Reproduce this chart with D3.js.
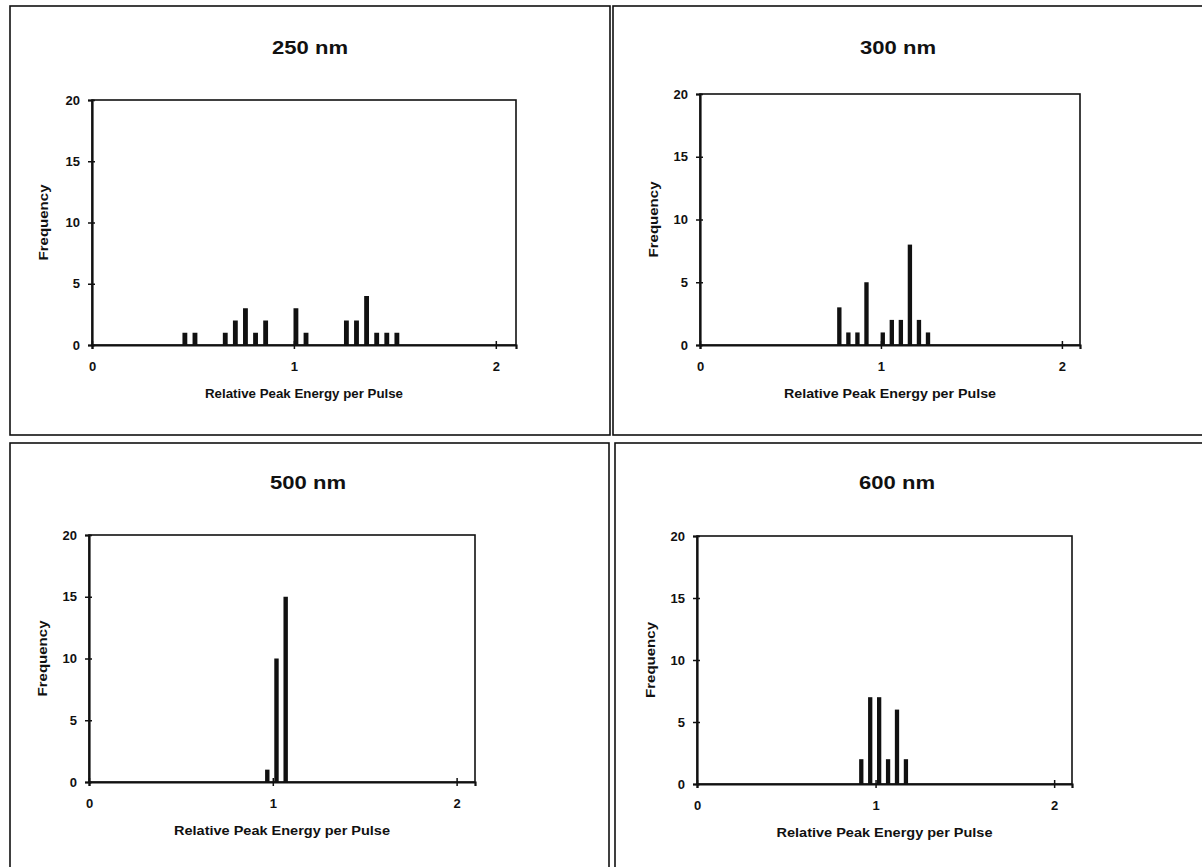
<!DOCTYPE html>
<html>
<head>
<meta charset="utf-8">
<script src="https://cdn.jsdelivr.net/npm/d3@7/dist/d3.min.js"></script>
<style>
  html, body { margin: 0; padding: 0; background: #fff; }
  svg { display: block; }
</style>
</head>
<body>
<svg id="chart" width="1202" height="867"></svg>
<script>
// ---- data ----
const panelTitles = ["250 nm", "300 nm", "500 nm", "600 nm"];
const xTicks = [0, 1, 2];
const yTicks = [0, 5, 10, 15, 20];
const xLabel = "Relative Peak Energy per Pulse";
const yLabel = "Frequency";

const bins250 = [0.46, 0.51, 0.66, 0.71, 0.76, 0.81, 0.86, 1.01, 1.06, 1.26, 1.31, 1.36, 1.41, 1.46, 1.51];
const freq250 = [1, 1, 1, 2, 3, 1, 2, 3, 1, 2, 2, 4, 1, 1, 1];

const bins300 = [0.77, 0.82, 0.87, 0.92, 1.01, 1.06, 1.11, 1.16, 1.21, 1.26];
const freq300 = [3, 1, 1, 5, 1, 2, 2, 8, 2, 1];

const bins500 = [0.97, 1.02, 1.07];
const freq500 = [1, 10, 15];

const bins600 = [0.92, 0.97, 1.02, 1.07, 1.12, 1.17];
const freq600 = [2, 7, 7, 2, 6, 2];

const xDomain = [0, 2.1];
const yDomain = [0, 20];
const barWidthData = 0.024;

// ---- layout ----
const panels = [
  { title: panelTitles[0], bins: bins250, freq: freq250,
    frame: [10, 6, 600, 429], plot: [92, 516, 100, 345], titleX: 310, titleY: 54, ylabX: 43, xlabLen: 198 },
  { title: panelTitles[1], bins: bins300, freq: freq300,
    frame: [613, 6, 600, 429], plot: [700, 1080, 94, 345], titleX: 898, titleY: 54, ylabX: 653, xlabLen: 212 },
  { title: panelTitles[2], bins: bins500, freq: freq500,
    frame: [10, 443, 599, 440], plot: [89, 475, 535, 782], titleX: 308, titleY: 489, ylabX: 42, xlabLen: 216 },
  { title: panelTitles[3], bins: bins600, freq: freq600,
    frame: [615, 443, 600, 440], plot: [697, 1072, 536, 784], titleX: 897, titleY: 489, ylabX: 650, xlabLen: 216 }
];

const svg = d3.select("#chart");
const font = "'Liberation Sans', Arial, sans-serif";

panels.forEach(p => {
  const g = svg.append("g");
  // outer frame
  g.append("rect")
    .attr("x", p.frame[0]).attr("y", p.frame[1])
    .attr("width", p.frame[2]).attr("height", p.frame[3])
    .attr("fill", "none").attr("stroke", "#111").attr("stroke-width", 1.6);

  const [x0, x1, yTop, yBot] = p.plot;
  const x = d3.scaleLinear().domain(xDomain).range([x0, x1]);
  const y = d3.scaleLinear().domain(yDomain).range([yBot, yTop]);

  // plot border
  g.append("rect")
    .attr("x", x0).attr("y", yTop)
    .attr("width", x1 - x0).attr("height", yBot - yTop)
    .attr("fill", "none").attr("stroke", "#111").attr("stroke-width", 1.6);

  // bars
  const bw = x(barWidthData) - x(0);
  g.selectAll("rect.bar")
    .data(p.bins.map((b, i) => ({ b, f: p.freq[i] })))
    .join("rect")
    .attr("class", "bar")
    .attr("x", d => x(d.b) - bw / 2)
    .attr("y", d => y(d.f))
    .attr("width", bw)
    .attr("height", d => y(0) - y(d.f))
    .attr("fill", "#111");

  // y axis
  const ya = g.append("g")
    .attr("transform", `translate(${x0},0)`)
    .call(d3.axisLeft(y).tickValues(yTicks).tickSize(4).tickPadding(8).tickFormat(d3.format("d")));
  ya.select(".domain").attr("stroke", "#111").attr("stroke-width", 2.2);
  ya.selectAll(".tick line").attr("x1", 3).attr("x2", -4).attr("stroke", "#111").attr("stroke-width", 1.5);
  ya.selectAll(".tick text")
    .attr("font-family", font).attr("font-size", 13).attr("font-weight", "bold").attr("fill", "#111");

  // x axis
  const xa = g.append("g")
    .attr("transform", `translate(0,${yBot})`)
    .call(d3.axisBottom(x).tickValues(xTicks).tickSize(4).tickPadding(13).tickFormat(d3.format("d")));
  xa.select(".domain").attr("stroke", "#111").attr("stroke-width", 2.2);
  xa.selectAll(".tick line").attr("y1", -4).attr("y2", 4).attr("stroke", "#111").attr("stroke-width", 1.5);
  xa.selectAll(".tick text")
    .attr("font-family", font).attr("font-size", 13).attr("font-weight", "bold").attr("fill", "#111");

  // title
  g.append("text")
    .attr("x", p.titleX).attr("y", p.titleY)
    .attr("text-anchor", "middle")
    .attr("font-family", font).attr("font-size", 18).attr("font-weight", "bold")
    .attr("textLength", 76).attr("lengthAdjust", "spacingAndGlyphs")
    .attr("fill", "#111")
    .text(p.title);

  // x label
  g.append("text")
    .attr("x", (x0 + x1) / 2).attr("y", yBot + 53)
    .attr("text-anchor", "middle")
    .attr("font-family", font).attr("font-size", 13).attr("font-weight", "bold")
    .attr("textLength", p.xlabLen).attr("lengthAdjust", "spacingAndGlyphs")
    .attr("fill", "#111")
    .text(xLabel);

  // y label
  const ym = (yTop + yBot) / 2;
  g.append("text")
    .attr("transform", `translate(${p.ylabX + 5},${ym}) rotate(-90)`)
    .attr("text-anchor", "middle")
    .attr("font-family", font).attr("font-size", 13).attr("font-weight", "bold")
    .attr("textLength", 76).attr("lengthAdjust", "spacingAndGlyphs")
    .attr("fill", "#111")
    .text(yLabel);
});
</script>
</body>
</html>
